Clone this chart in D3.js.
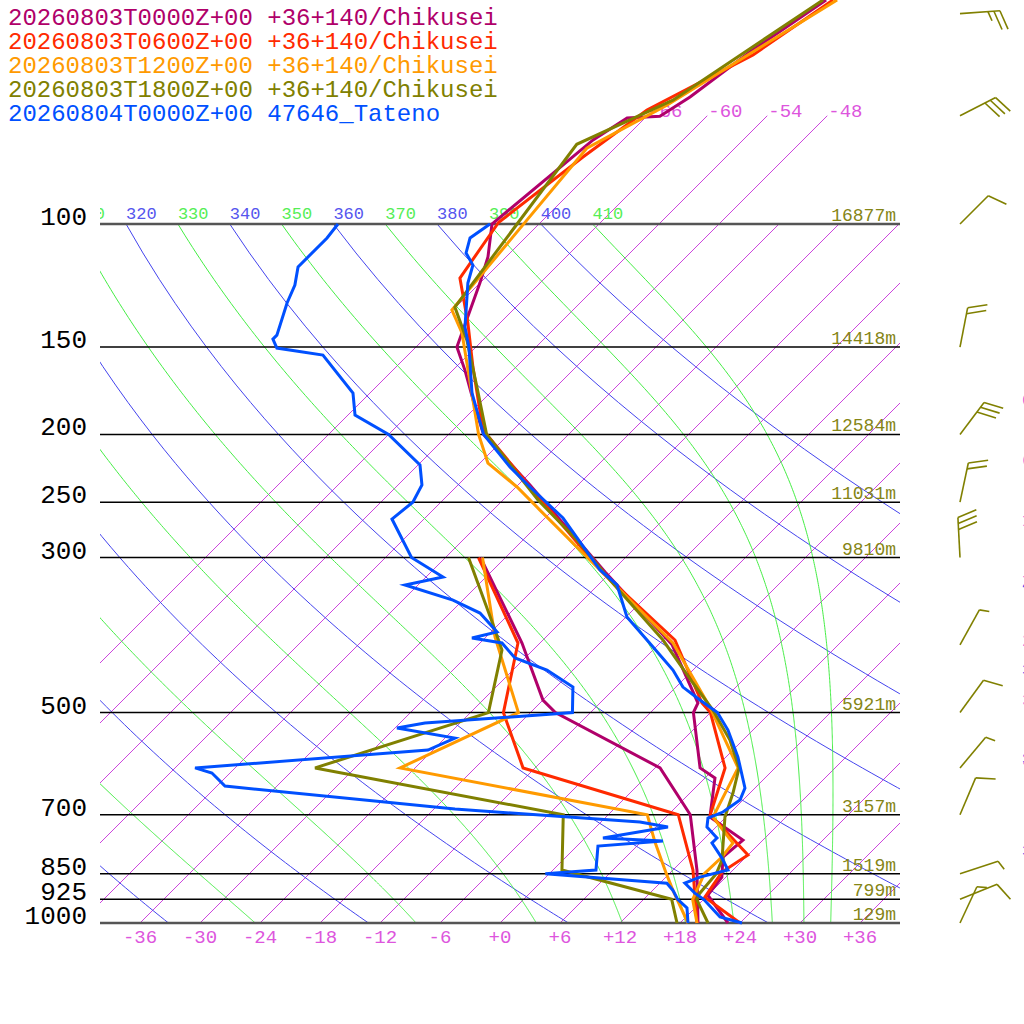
<!DOCTYPE html>
<html><head><meta charset="utf-8">
<script src="https://cdn.jsdelivr.net/npm/d3@7"></script>
<style>body{margin:0;background:#fff}svg{display:block}</style>
</head><body>
<svg id="c" width="1024" height="1024"></svg>
<script>
// ---------- data ----------
const pressureLevels = [100,150,200,250,300,500,700,850,925,1000];
const heightLabels = ["16877m","14418m","12584m","11031m","9810m","5921m","3157m","1519m","799m","129m"];
const tempTicks = [-36,-30,-24,-18,-12,-6,0,6,12,18,24,30,36];
const isotherms = [-66,-60,-54,-48,-42,-36,-30,-24,-18,-12,-6,0,6,12,18,24,30,36];
const dryThetas = [240,260,280,300,320,340,360,380,400];
const moistThetas = [230,250,270,290,310,330,350,370,390,410];

const seriesNames = [
  "20260803T0000Z+00 +36+140/Chikusei",
  "20260803T0600Z+00 +36+140/Chikusei",
  "20260803T1200Z+00 +36+140/Chikusei",
  "20260803T1800Z+00 +36+140/Chikusei",
  "20260804T0000Z+00 47646_Tateno"
];
const seriesColors = ["#b0006a","#ff2a00","#ff9a00","#808000","#0050ff"];

// [pressure hPa, temperature C]
const temp0000 = [[47.8,-59.7],[56.7,-62.1],[65.8,-63.6],[70.1,-64.7],[70.5,-67.8],[75.8,-69.0],[100,-70.7],[111.5,-67.8],[121.5,-66.0],[150,-61.9],[161.8,-58.8],[182.7,-54.1],[200,-50.5],[236.3,-40.8],[314.6,-24.6],[400,-10.6],[484.5,-2.2],[500,-1.7],[600,4.5],[620.3,7.0],[705.4,10.4],[760.9,16.0],[804.7,15.7],[859.8,17.6],[912.4,18.0],[1000,22.8]];
const dew0000 = [[300,-38.5],[397.6,-25.8],[479.8,-18.0],[500,-15.5],[600,0.5],[700,8.2],[839.9,14.4],[1000,19.8]];

const temp0600 = [[47.8,-59.0],[57.3,-61.5],[68.7,-66.6],[80.2,-68.3],[99.5,-70.2],[119.5,-68.5],[138.6,-63.2],[160.2,-58.3],[197.1,-51.0],[237.8,-40.6],[315.7,-24.7],[393.7,-10.8],[484.5,-1.8],[500,0.0],[600,7.0],[700,10.2],[799.4,18.0],[845.5,17.1],[918.4,17.9],[1000,24.0]];
const dew0600 = [[300,-38.7],[397.6,-26.2],[500,-20.7],[600,-13.2],[700,7.0],[839.9,14.0],[1000,19.7]];

const temp1200 = [[47.8,-58.6],[67.6,-65.1],[77.9,-68.8],[132.8,-66.1],[143.2,-62.8],[200,-51.0],[219.8,-47.2],[237.8,-41.9],[256.6,-37.3],[315.7,-24.7],[397.6,-10.7],[491,-0.6],[600,8.3],[705.4,10.7],[768.4,15.3],[804.7,15.6],[850,15.5],[925,16.9],[1000,19.7]];
const dew1200 = [[300,-38.3],[389.8,-29.1],[500,-19.2],[600,-25.5],[700,3.9],[765.9,7.4],[850,11.7],[897.5,14.0],[1000,18.8]];

const temp1800 = [[47.8,-60.0],[66.5,-65.0],[76.9,-70.2],[131.5,-66.1],[146.6,-61.6],[171.1,-55.9],[200,-50.2],[248.2,-38.5],[283.2,-30.6],[323.1,-23.3],[393.7,-12.0],[453.6,-4.7],[495.9,0.0],[547.4,4.7],[600,8.4],[651.7,10.3],[705.4,11.9],[812.7,15.9],[850,16.7],[906.4,17.0],[925,17.3],[1000,20.8]];
const dew1800 = [[300,-39.7],[380.9,-29.8],[406.9,-27.1],[500,-22.2],[600,-34.0],[700,-4.5],[839.9,0.9],[925,14.8],[1000,17.7]];

const tempTateno = [[100,-70.9],[104.7,-71.5],[110,-70.4],[114.5,-68.5],[121.5,-67.2],[140.4,-63.1],[150,-60.7],[174.5,-55.8],[200,-50.5],[222.7,-44.6],[237.8,-40.6],[263.4,-34.2],[312.6,-25.3],[328.4,-22.1],[365,-17.9],[393.7,-13.6],[434.6,-8.0],[459.7,-5.3],[479.8,-2.3],[500,0.7],[529.6,3.5],[578.9,7.2],[641.1,11.0],[666.9,11.7],[693.8,11.2],[707.7,10.3],[729,11.1],[755.9,13.2],[768.4,13.2],[807.4,15.7],[839.9,17.5],[859.8,15.4],[877,14.5],[906.4,16.5],[925,18.0],[980.4,21.4],[1000,24.2]];
const dewTateno = [[100,-86.1],[104.7,-85.8],[115.2,-85.8],[122.3,-84.3],[129.7,-83.3],[144.2,-81.1],[146.1,-81.1],[150.5,-79.8],[154,-74.5],[174.5,-67.7],[187.6,-65.3],[200,-60.0],[221.2,-53.8],[236.3,-51.6],[250,-50.8],[264.3,-51.2],[300,-45.4],[319.9,-40.3],[328.4,-43.3],[345.1,-37.0],[360.2,-33.0],[383.4,-29.4],[391.1,-31.3],[397.6,-27.8],[417.7,-25.0],[434.6,-20.6],[459.7,-16.3],[500,-13.8],[517.5,-27.5],[526.1,-29.8],[543.8,-23.0],[565.7,-24.5],[600,-46.0],[610.2,-43.8],[636.9,-41.2],[687,-15.9],[717.1,3.9],[729,7.2],[755.9,1.8],[763.4,8.1],[776.1,2.1],[839.9,4.3],[850,-0.4],[877,12.7],[897.5,14.0],[925,15.4],[951.8,17.2],[1000,18.8]];

const windP   = [50,70,100,150,200,250,300,400,500,600,700,850,925,1000];
const windDir = [86,63,45,11,37,12,357,29,36,40,23,72,68,25];
const windSpd = [25,30,10,20,30,20,30,5,10,5,10,5,10,5];

// ---------- scales ----------
const FONT = "'Liberation Mono', 'DejaVu Sans Mono', monospace";
const y = d3.scaleLog().domain([1000,100]).range([923,224]);
const xT = d3.scaleLinear().domain([-40,40]).range([100,900]);
const skewX = (T,p) => xT(T) + (y(1000) - y(p));
const svg = d3.select("#c");

svg.append("defs").append("clipPath").attr("id","plot")
  .append("rect").attr("x",100).attr("y",0).attr("width",800).attr("height",923);

const line = d3.line().x(d=>skewX(d[1],d[0])).y(d=>y(d[0]));

// thermodynamics for guide lines
const Rd=287.04, cp=1005.7, Lv=2.501e6, eps=0.622, kappa=Rd/cp;
function dTdp(p,T){
  const Tc=T-273.15;
  const es=6.112*Math.exp(17.67*Tc/(Tc+243.5));
  const rs=eps*es/(p-es);
  return (1/p)*(Rd*T+Lv*rs)/(cp+Lv*Lv*rs*eps/(Rd*T*T));
}
function moistLine(theta){
  let p=100, T=theta*Math.pow(0.1,kappa);
  const pts=[[p,T-273.15]]; const dp=2;
  while(p<1000){
    const k1=dTdp(p,T), k2=dTdp(p+dp,T+k1*dp);
    T+=0.5*(k1+k2)*dp; p+=dp; pts.push([p,T-273.15]);
  }
  return pts;
}
function dryLine(theta){
  return d3.range(100,1000.1,10).map(p=>[p, theta*Math.pow(p/1000,kappa)-273.15]);
}

const grid = svg.append("g").attr("clip-path","url(#plot)");
// isotherms
grid.selectAll("line.iso").data(isotherms).join("line")
  .attr("x1",T=>skewX(T,1000)).attr("y1",y(1000))
  .attr("x2",T=>skewX(T,T<=-48?70:100)).attr("y2",T=>y(T<=-48?70:100))
  .attr("stroke","#cc44dd").attr("stroke-width",1);
// dry adiabats
grid.selectAll("path.dry").data(dryThetas).join("path")
  .attr("d",t=>line(dryLine(t))).attr("fill","none").attr("stroke","#4444ee").attr("stroke-width",1);
// moist adiabats
grid.selectAll("path.moist").data(moistThetas).join("path")
  .attr("d",t=>line(moistLine(t))).attr("fill","none").attr("stroke","#44ee44").attr("stroke-width",1);

// theta labels at 100 hPa (only those whose position reaches the plot)
const thX = t=>skewX(t*Math.pow(0.1,kappa)-273.15,100);
const thLabels = dryThetas.map(t=>({t,c:"#5555ee"})).concat(moistThetas.map(t=>({t,c:"#55ee55"})))
  .filter(d=>thX(d.t)>65);
grid.selectAll("text.th").data(thLabels).join("text")
  .attr("x",d=>thX(d.t)).attr("y",219)
  .attr("fill",d=>d.c).attr("font-family",FONT).attr("font-size",17).text(d=>d.t);

// isotherm labels at top
svg.selectAll("text.isoTop").data(isotherms.filter(T=>T<=-48)).join("text")
  .attr("x",T=>skewX(T,70)+1).attr("y",y(70)+1)
  .attr("fill","#dd55dd").attr("font-family",FONT).attr("font-size",19).text(T=>T);

// isobars
svg.selectAll("line.isobar").data(pressureLevels).join("line")
  .attr("x1",100).attr("x2",900).attr("y1",p=>y(p)).attr("y2",p=>y(p))
  .attr("stroke",p=>(p===100||p===1000)?"#555":"#000")
  .attr("stroke-width",p=>(p===100||p===1000)?2.5:1.5);
svg.selectAll("text.plab").data(pressureLevels).join("text")
  .attr("x",87).attr("y",p=>y(p)+1).attr("text-anchor","end")
  .attr("font-family",FONT).attr("font-size",26).attr("fill","#000").text(p=>p);
svg.selectAll("text.hlab").data(pressureLevels).join("text")
  .attr("x",896).attr("y",p=>y(p)-3).attr("text-anchor","end")
  .attr("font-family",FONT).attr("font-size",18).attr("fill","#858515").text((p,i)=>heightLabels[i]);

// bottom temperature axis
svg.selectAll("text.tlab").data(tempTicks).join("text")
  .attr("x",T=>xT(T)).attr("y",943).attr("text-anchor","middle")
  .attr("font-family",FONT).attr("font-size",19).attr("fill","#dd55dd")
  .text(T=>T>=0?"+"+T:""+T);

// right-hand labels (they lie mostly beyond the page edge, as in the original)
const rx = 1021;
svg.selectAll("text.isoR").data(isotherms.filter(T=>{const yy=y(1000)-(rx-xT(T));return yy>224&&yy<923;})).join("text")
  .attr("x",rx+1).attr("y",T=>y(1000)-(rx-xT(T))+4)
  .attr("font-family",FONT).attr("font-size",19).attr("fill","#dd55dd").text(T=>T);
const dryR = [];
dryThetas.forEach(t=>{
  const pts=dryLine(t);
  for(let i=1;i<pts.length;i++){
    const a=skewX(pts[i-1][1],pts[i-1][0]), b=skewX(pts[i][1],pts[i][0]);
    if((a-rx)*(b-rx)<=0){
      const f=(rx-a)/(b-a); const yy=y(pts[i-1][0])+f*(y(pts[i][0])-y(pts[i-1][0]));
      if(yy>224&&yy<923) dryR.push({t,yy}); break;
    }
  }
});
svg.selectAll("text.dryR").data(dryR).join("text")
  .attr("x",rx+1).attr("y",d=>d.yy+3)
  .attr("font-family",FONT).attr("font-size",17).attr("fill","#5555ee").text(d=>d.t);

// ---------- soundings ----------
const series = [
  {T:temp0000,D:dew0000},{T:temp0600,D:dew0600},{T:temp1200,D:dew1200},
  {T:temp1800,D:dew1800},{T:tempTateno,D:dewTateno}
];
const data = svg.append("g");
series.forEach((s,i)=>{
  [s.D,s.T].forEach(arr=>{
    data.append("path").attr("d",line(arr)).attr("fill","none")
      .attr("stroke",seriesColors[i]).attr("stroke-width",3).attr("stroke-linejoin","miter");
  });
});

// legend
svg.selectAll("text.leg").data(seriesNames).join("text")
  .attr("x",8).attr("y",(d,i)=>25+24*i)
  .attr("font-family",FONT).attr("font-size",24).attr("fill",(d,i)=>seriesColors[i]).text(d=>d);

// wind barbs (1800Z)
const barbs = svg.append("g").attr("stroke","#808000").attr("stroke-width",1.6).attr("fill","none");
windP.forEach((p,i)=>{
  const x0=960, y0=y(p), a=windDir[i]*Math.PI/180;
  const ux=Math.sin(a), uy=-Math.cos(a), L=40;
  const tx=x0+ux*L, ty=y0+uy*L;
  barbs.append("line").attr("x1",x0).attr("y1",y0).attr("x2",tx).attr("y2",ty);
  const r=70*Math.PI/180;
  const vx=ux*Math.cos(r)-uy*Math.sin(r), vy=ux*Math.sin(r)+uy*Math.cos(r);
  let n=Math.floor(windSpd[i]/10), half=(windSpd[i]%10)>=5, k=0;
  for(let j=0;j<n;j++,k++){
    const bx=tx-ux*6*k, by=ty-uy*6*k;
    barbs.append("line").attr("x1",bx).attr("y1",by).attr("x2",bx+vx*20).attr("y2",by+vy*20);
  }
  if(half){
    const bx=tx-ux*6*k, by=ty-uy*6*k;
    barbs.append("line").attr("x1",bx).attr("y1",by).attr("x2",bx+vx*10).attr("y2",by+vy*10);
  }
});
</script>
</body></html>
